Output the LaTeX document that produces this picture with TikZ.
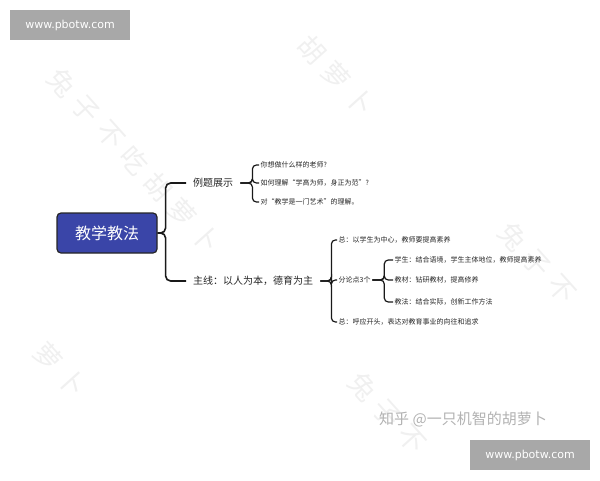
\documentclass[tikz,border=0pt]{standalone}
\usepackage{fontspec}
\setmainfont{Noto Sans CJK SC}
\newfontfamily\urlfont{DejaVu Sans}
\usetikzlibrary{positioning}
\definecolor{rootblue}{RGB}{58,69,168}
\definecolor{markgray}{RGB}{168,168,168}

\begin{document}
\begin{tikzpicture}[
    x=1pt, y=-1pt,
    root/.style={rectangle, draw=black!85, line width=1.2pt, fill=rootblue, text=white, rounded corners=4pt, minimum width=100pt, minimum height=40pt, font=\fontsize{16}{18}\selectfont},
    topic/.style={anchor=west, inner xsep=7pt, text=black!85, font=\fontsize{10}{12}\selectfont},
    item/.style={anchor=west, inner xsep=1.5pt, inner ysep=1pt, text=black!85, font=\fontsize{7}{8}\selectfont},
    link/.style={draw=black!90, line width=1.6pt, rounded corners=5pt},
    sublink/.style={draw=black!90, line width=1.2pt, rounded corners=4pt},
    urlbox/.style={rectangle, fill=markgray, text=white, minimum width=120pt, minimum height=30pt, font=\urlfont\fontsize{11}{13}\selectfont},
    wmark/.style={text=black!6, rotate=-48, font=\fontsize{27}{29}\selectfont}
]
\useasboundingbox (0,0) rectangle (600,480);

% Watermarks
\foreach \wx/\wy/\first/\last in {62/83/0/6, 216/-54/4/6, 513/237/0/2, -72/227/5/6, 363/387/0/2}
  \foreach \c [count=\i from 0] in {兔,子,不,吃,胡,萝,卜}
    {\ifnum\i<\first\else\ifnum\i>\last\else
      \node[wmark] at (\wx+\i*24, \wy+\i*26) {\c};
    \fi\fi}
\node[urlbox] (urltop) at (70,25) {www.pbotw.com};
\node[urlbox] (urlbottom) at (530,455) {www.pbotw.com};
\node[text=black!30, font=\fontsize{15}{17}\selectfont] (zhihu) at (463,419) {知乎 @一只机智的胡萝卜};

% Root
\node[root] (root) at (107,233) {教学教法};

% Topics
\node[topic] (example) at (186,183) {例题展示};
\node[topic] (mainline) at (186,281) {主线：以人为本，德育为主};

% Example items
\node[item] (ex1) at (259,165) {你想做什么样的老师?};
\node[item] (ex2) at (259,183) {如何理解“学高为师，身正为范”?};
\node[item] (ex3) at (259,202) {对“教学是一门艺术”的理解。};

% Main line items
\node[item] (sum1) at (337,240) {总：以学生为中心，教师要提高素养};
\node[item] (points) at (337,280) {分论点3个};
\node[item] (sum2) at (337,322) {总：呼应开头，表达对教育事业的向往和追求};

% Points
\node[item] (pt1) at (393,260) {学生：结合语境，学生主体地位，教师提高素养};
\node[item] (pt2) at (393,280) {教材：钻研教材，提高修养};
\node[item] (pt3) at (393,302) {教法：结合实际，创新工作方法};

% Brackets
\draw[link] (root.east) -- ++(8,0) |- (example.west);
\draw[link] (root.east) -- ++(8,0) |- (mainline.west);

\foreach \n in {ex1,ex2,ex3}
  \draw[sublink] (example.east) -- ++(12,0) |- (\n.west);
\foreach \n in {sum1,points,sum2}
  \draw[sublink] (mainline.east) -- ++(11,0) |- (\n.west);
\foreach \n in {pt1,pt2,pt3}
  \draw[sublink] (points.east) -- ++(12,0) |- (\n.west);

\end{tikzpicture}
\end{document}
